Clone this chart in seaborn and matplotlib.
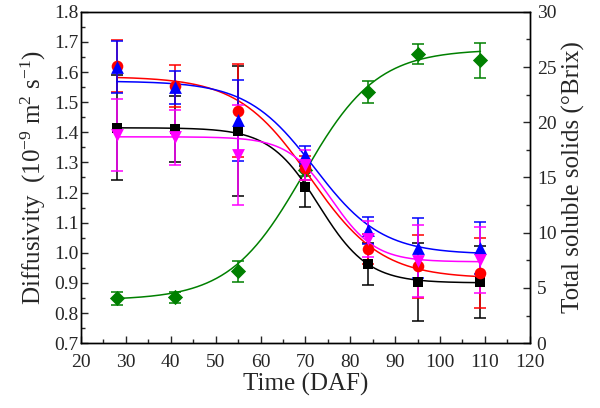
import numpy as np
import pandas as pd
import matplotlib
matplotlib.use("Agg")
import matplotlib.pyplot as plt
import seaborn as sns
from matplotlib.ticker import MultipleLocator, FormatStrFormatter

# Sampling days (DAF)
days = [28, 41, 55, 70, 84, 95, 109]

# Diffusivity (10^-9 m2 s-1), four series, with error bars
diff_black = [1.415, 1.41, 1.405, 1.22, 0.963, 0.904, 0.903]
err_black = [0.175, 0.11, 0.215, 0.067, 0.07, 0.13, 0.12]
diff_red = [1.62, 1.555, 1.472, 1.28, 1.012, 0.955, 0.933]
err_red = [0.085, 0.07, 0.155, 0.04, 0.05, 0.105, 0.115]
diff_blue = [1.617, 1.55, 1.44, 1.325, 1.075, 1.015, 1.016]
err_blue = [0.085, 0.055, 0.135, 0.03, 0.045, 0.1, 0.085]
diff_magenta = [1.39, 1.383, 1.325, 1.29, 1.045, 0.972, 0.977]
err_magenta = [0.12, 0.09, 0.165, 0.05, 0.06, 0.12, 0.11]

# Total soluble solids (°Brix)
tss = [4.05, 4.15, 6.5, 15.7, 22.7, 26.2, 25.6]
err_tss = [0.6, 0.5, 0.95, 0.6, 1.0, 0.9, 1.6]

# Boltzmann fit parameters: A1, A2, x0, dx
fit_black = [1.415, 0.90, 73.0, 5.5]
fit_red = [1.585, 0.915, 71.0, 8.0]
fit_blue = [1.57, 0.995, 72.0, 7.5]
fit_magenta = [1.385, 0.97, 75.8, 4.9]
fit_tss = [3.9, 26.6, 69.5, 8.2]


def boltzmann(x, p):
    a1, a2, x0, dx = p
    return a2 + (a1 - a2) / (1 + np.exp((x - x0) / dx))


sns.set_style("ticks")
plt.rcParams["font.family"] = ["Liberation Serif", "DejaVu Serif"]
plt.rcParams["mathtext.fontset"] = "custom"
plt.rcParams["mathtext.rm"] = "Liberation Serif"
plt.rcParams["mathtext.it"] = "Liberation Serif:italic"
plt.rcParams["xtick.direction"] = "in"
plt.rcParams["ytick.direction"] = "in"

fig = plt.figure(figsize=(6.0, 4.08), dpi=100)
ax = fig.add_axes([0.135, 0.159, 0.748, 0.812])
ax2 = ax.twinx()

xs = np.linspace(days[0], days[-1], 300)

series = [
    (diff_black, err_black, fit_black, "black", "s", 50),
    (diff_red, err_red, fit_red, "red", "o", 70),
    (diff_blue, err_blue, fit_blue, "blue", "^", 85),
    (diff_magenta, err_magenta, fit_magenta, "magenta", "v", 85),
]

for vals, errs, fit, col, mk, sz in series:
    curve = pd.DataFrame({"x": xs, "y": boltzmann(xs, fit)})
    sns.lineplot(data=curve, x="x", y="y", color=col, lw=1.1, ax=ax)
    ax.errorbar(days, vals, yerr=errs, fmt="none", ecolor=col,
                elinewidth=1.1, capsize=4, capthick=1.1)
    pts = pd.DataFrame({"x": days, "y": vals})
    sns.scatterplot(data=pts, x="x", y="y", color=col, marker=mk, s=sz,
                    edgecolor=col, linewidth=0, ax=ax, zorder=3)

green = "#008000"
curve = pd.DataFrame({"x": xs, "y": boltzmann(xs, fit_tss)})
sns.lineplot(data=curve, x="x", y="y", color=green, lw=1.1, ax=ax2)
ax2.errorbar(days, tss, yerr=err_tss, fmt="none", ecolor=green,
             elinewidth=1.1, capsize=4, capthick=1.1)
sns.scatterplot(data=pd.DataFrame({"x": days, "y": tss}), x="x", y="y",
                color=green, marker="D", s=60, edgecolor=green, linewidth=0,
                ax=ax2, zorder=3)

ax.set_zorder(ax2.get_zorder() + 1)
ax.patch.set_visible(False)

ax.set_xlim(20, 120)
ax.set_ylim(0.7, 1.8)
ax2.set_ylim(0, 30)
ax.xaxis.set_major_locator(MultipleLocator(10))
ax.xaxis.set_minor_locator(MultipleLocator(5))
ax.yaxis.set_major_locator(MultipleLocator(0.1))
ax.yaxis.set_minor_locator(MultipleLocator(0.05))
ax2.yaxis.set_major_locator(MultipleLocator(5))
ax2.yaxis.set_minor_locator(MultipleLocator(2.5))
ax.yaxis.set_major_formatter(FormatStrFormatter("%.1f"))

for a in (ax, ax2):
    a.tick_params(which="major", length=5, width=1, labelsize=14, pad=2)
    a.tick_params(which="minor", length=3, width=1)
    for sp in a.spines.values():
        sp.set_linewidth(1.0)
        sp.set_color("black")
        sp.set_visible(True)
ax.tick_params(axis="x", which="major", pad=8)
ax2.tick_params(axis="y", which="major", pad=5)

ax.set_xlabel("Time (DAF)", fontsize=18, labelpad=1)
ax.set_ylabel("Diffusivity  (10$^{-9}$ m$^{2}$ s$^{-1}$)", fontsize=18, labelpad=4)
ax2.set_ylabel("Total soluble solids (°Brix)", fontsize=18, labelpad=4)

fig.savefig("out.png", dpi=100)
